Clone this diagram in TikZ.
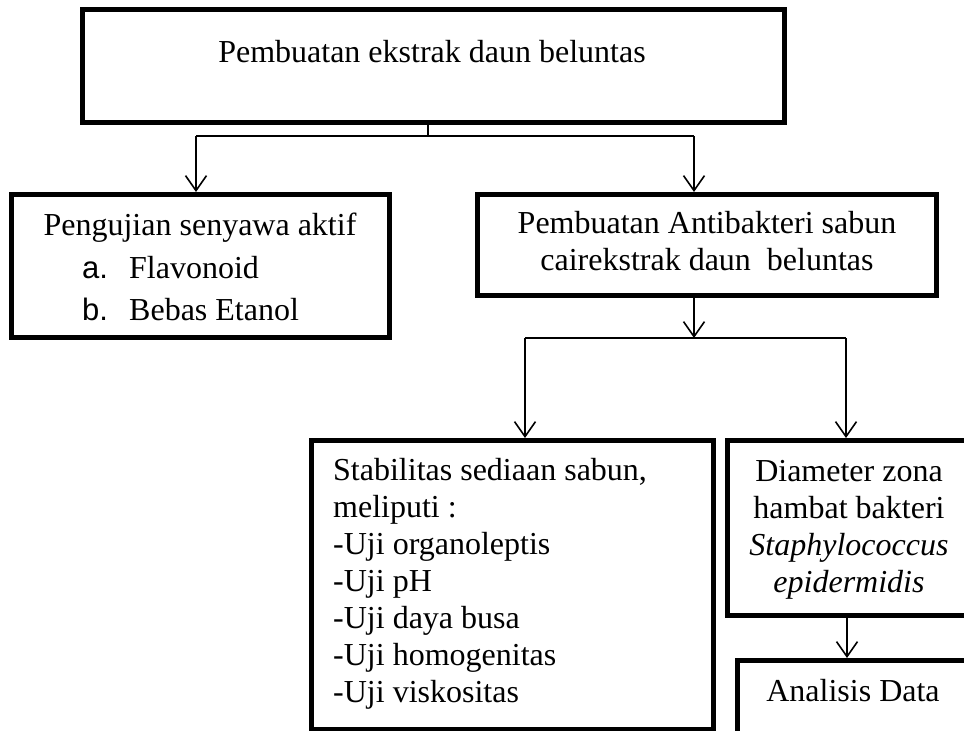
\documentclass[tikz,border=0pt]{standalone}
\usepackage{fontspec}
\setmainfont{Liberation Serif}
\newfontfamily\sansf{Liberation Sans}
\usetikzlibrary{arrows.meta}
\begin{document}
\begin{tikzpicture}[x=1pt,y=-1pt,
 box/.style={draw,line width=5pt,outer sep=2.5pt,rectangle,inner sep=0pt,anchor=north west},
 conn/.style={line width=1.6pt},
 arr/.style={conn,-{Straight Barb[length=15pt,width=21pt,line width=1.6pt]}},
 txt/.style={inner sep=0pt,font=\fontsize{32}{37}\selectfont},
 lab/.style={inner sep=0pt,font=\sansf\fontsize{31}{37}\selectfont},
]
\useasboundingbox (0,0) rectangle (964,731);
\clip (0,0) rectangle (964,731);
% boxes
\node[box,minimum width=702pt,minimum height=113pt] (top) at (80,7) {};
\node[box,minimum width=378pt,minimum height=143pt] (left) at (9,192) {};
\node[box,minimum width=459pt,minimum height=101pt] (right) at (475,192) {};
\node[box,minimum width=402pt,minimum height=289pt] (bl) at (309,438) {};
\node[box,minimum width=320pt,minimum height=175pt] (diam) at (725,438) {};
\node[box,minimum width=320pt,minimum height=117pt] (anal) at (735,658) {};
% texts
\node[txt,anchor=base] (t1) at (432,62) {Pembuatan ekstrak daun beluntas};
\node[txt,anchor=base] (l1) at (200,235) {Pengujian senyawa aktif};
\node[lab,anchor=base west] (la) at (82,278) {a.};
\node[txt,anchor=base west] (l2) at (129,278) {Flavonoid};
\node[lab,anchor=base west] (lb) at (82,320) {b.};
\node[txt,anchor=base west] (l3) at (129,320) {Bebas Etanol};
\node[txt,anchor=base] (r1) at (707,233) {Pembuatan Antibakteri sabun};
\node[txt,anchor=base] (r2) at (707,270) {cairekstrak daun\ \ beluntas};
\node[txt,anchor=base west] (s1) at (333,480) {Stabilitas sediaan sabun,};
\node[txt,anchor=base west] (s2) at (333,517) {meliputi :};
\node[txt,anchor=base west] (s3) at (333,554) {-Uji organoleptis};
\node[txt,anchor=base west] (s4) at (333,591) {-Uji pH};
\node[txt,anchor=base west] (s5) at (333,628) {-Uji daya busa};
\node[txt,anchor=base west] (s6) at (333,665) {-Uji homogenitas};
\node[txt,anchor=base west] (s7) at (333,702) {-Uji viskositas};
\node[txt,anchor=base] (d1) at (849,481) {Diameter zona};
\node[txt,anchor=base] (d2) at (849,518) {hambat bakteri};
\node[txt,anchor=base] (d3) at (849,555) {\itshape Staphylococcus};
\node[txt,anchor=base] (d4) at (849,592) {\itshape epidermidis};
\node[txt,anchor=base] (a1) at (853,701) {Analisis Data};
% connectors
\coordinate (j1) at (428,136);
\coordinate (j1l) at (196,136);
\coordinate (j1r) at (694,136);
\draw[conn] (top.south -| j1) -- (j1);
\draw[conn] (j1l) -- (j1r);
\draw[arr] (j1l) -- (left.north -| j1l);
\draw[arr] (j1r) -- (right.north -| j1r);
\coordinate (j2) at (694,338);
\coordinate (j2l) at (525,338);
\coordinate (j2r) at (846,338);
\draw[arr] (right.south -| j2) -- (j2);
\draw[conn] (j2l) -- (j2r);
\draw[arr] (j2l) -- (bl.north -| j2l);
\draw[arr] (j2r) -- (diam.north -| j2r);
\coordinate (j3) at (847,640);
\draw[arr] (diam.south -| j3) -- (anal.north -| j3);
\end{tikzpicture}
\end{document}
